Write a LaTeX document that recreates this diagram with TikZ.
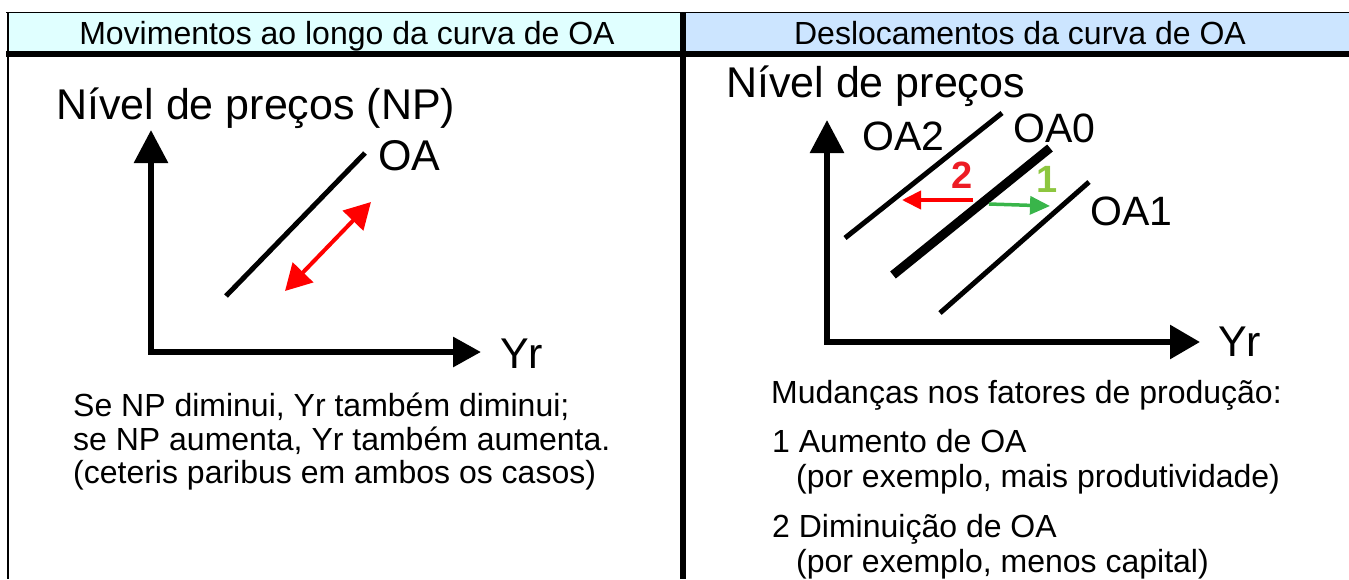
\documentclass[tikz,border=0pt]{standalone}
\usepackage{fontspec}
\setmainfont{Liberation Sans}
\usetikzlibrary{arrows.meta}
\definecolor{hdrL}{HTML}{E0FFFF}
\definecolor{hdrR}{HTML}{CCE5FF}
\definecolor{arrred}{HTML}{FF0000}
\definecolor{numred}{HTML}{ED1C24}
\definecolor{numgreen}{HTML}{8DC63F}
\definecolor{arrgreen}{HTML}{39B54A}
\begin{document}
\begin{tikzpicture}[x=1pt,y=-1pt,
  txt/.style={anchor=base west, inner sep=0pt, font=\fontsize{32}{34}\selectfont},
  big/.style={anchor=base west, inner sep=0pt, font=\fontsize{43}{46}\selectfont},
  lbl/.style={anchor=base west, inner sep=0pt, font=\fontsize{41}{44}\selectfont},
  num/.style={anchor=base, inner sep=0pt, font=\fontsize{38}{40}\selectfont\bfseries},
  axis/.style={line width=6pt},
  curve/.style={line width=5pt},
  movearrow/.style={line width=4pt}]
\useasboundingbox (0,0) rectangle (1349,579);
% frame and headers
\fill[hdrL] (7,13) rectangle (683,51);
\fill[hdrR] (683,13) rectangle (1349,51);
\draw[line width=1.5pt] (6,12.5) -- (1349,12.5);
\fill (6,51) rectangle (1349,57);
\draw[line width=2pt] (7.5,12) -- (7.5,579);
\fill (680,13) rectangle (686,579);
\node[txt, anchor=base] (h1) at (347,44) {Movimentos ao longo da curva de OA};
\node[txt, anchor=base] (h2) at (1020,44) {Deslocamentos da curva de OA};

% left panel
\node[big] (np1) at (56,119) {Nível de preços (NP)};
\coordinate (o1) at (151,352);
\coordinate (ytip1) at (151,130);
\coordinate (xs1) at (148,352);
\coordinate (xtip1) at (481,352);
\draw[axis, -{Triangle[length=33pt,width=33pt]}] (o1) -- (ytip1);
\draw[axis, -{Triangle[length=28pt,width=29pt]}] (xs1) -- (xtip1);
\node[big] (yr1) at (500,368) {Yr};
\coordinate (oa_a) at (226,296);
\coordinate (oa_b) at (365,153);
\draw[curve] (oa_a) -- (oa_b);
\node[big] (oa) at (378,170) {OA};
\coordinate (ra) at (285,291);
\coordinate (rb) at (371,202);
\draw[movearrow, arrred, {Triangle[length=26pt,width=28pt]}-{Triangle[length=26pt,width=28pt]}] (ra) -- (rb);
\node[txt] (l1) at (73,416) {Se NP diminui, Yr também diminui;};
\node[txt] (l2) at (73,450) {se NP aumenta, Yr também aumenta.};
\node[txt] (l3) at (73,483) {(ceteris paribus em ambos os casos)};

% right panel
\node[big] (np2) at (726,97) {Nível de preços};
\coordinate (o2) at (827,342);
\coordinate (ytip2) at (827,120);
\coordinate (xs2) at (824,342);
\coordinate (xtip2) at (1200,342);
\draw[axis, -{Triangle[length=33pt,width=33pt]}] (o2) -- (ytip2);
\draw[axis, -{Triangle[length=30pt,width=33pt]}] (xs2) -- (xtip2);
\node[big] (yr2) at (1218,356) {Yr};
\coordinate (a2a) at (845,238);
\coordinate (a2b) at (1002,113);
\coordinate (a0a) at (893,275);
\coordinate (a0b) at (1050,148);
\coordinate (a1a) at (940,313);
\coordinate (a1b) at (1089,182);
\draw[curve] (a2a) -- (a2b);
\draw[line width=9pt] (a0a) -- (a0b);
\draw[curve] (a1a) -- (a1b);
\node[lbl] (oa2) at (862,150) {OA2};
\node[lbl] (oa0) at (1013,142) {OA0};
\node[lbl] (oa1) at (1090,225) {OA1};
\coordinate (r2s) at (973,200);
\coordinate (r2t) at (902,200);
\draw[movearrow, arrred, -{Triangle[length=19pt,width=18pt]}] (r2s) -- (r2t);
\coordinate (g1s) at (989,204);
\coordinate (g1t) at (1050,206);
\draw[line width=3.5pt, arrgreen, -{Triangle[length=20pt,width=18pt]}] (g1s) -- (g1t);
\node[num, numred] (n2) at (962,188) {2};
\node[num, numgreen] (n1) at (1047,192) {1};
\node[txt] (m0) at (771,403) {Mudanças nos fatores de produção:};
\node[txt] (m1) at (772,452) {1 Aumento de OA};
\node[txt] (m2) at (796,487) {(por exemplo, mais produtividade)};
\node[txt] (m3) at (772,537) {2 Diminuição de OA};
\node[txt] (m4) at (796,572) {(por exemplo, menos capital)};
\end{tikzpicture}
\end{document}
